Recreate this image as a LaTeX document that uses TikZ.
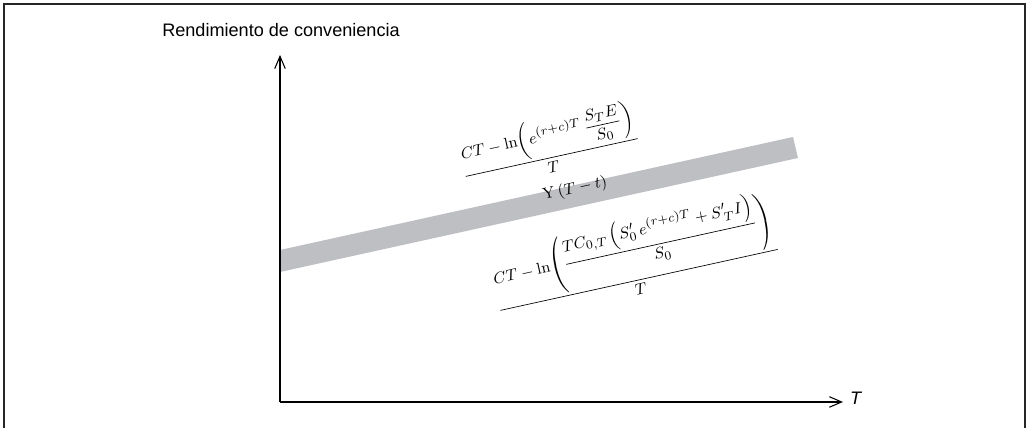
\documentclass[tikz,border=0pt]{standalone}
\usepackage{amsmath}
\usepackage[no-math]{fontspec}
\setsansfont{Liberation Sans}
\usetikzlibrary{arrows.meta,positioning}
\definecolor{bandgray}{RGB}{190,191,194}
\tikzset{
  frame/.style ={line width=1.4pt,draw=black!85},
  axis/.style  ={line width=0.6pt,-{Straight Barb[length=7pt,width=6pt]}},
  band/.style  ={fill=bandgray,draw=none},
  lbl/.style   ={font=\sffamily\fontsize{10.3}{12}\selectfont,inner sep=1pt},
  frm/.style   ={font=\fontsize{9.5}{11}\selectfont,inner sep=0pt,rotate=12.4},
}

\begin{document}
\begin{tikzpicture}[x=0.02cm,y=-0.02cm]
  \useasboundingbox (0,0) rectangle (1029,428);
  \draw[frame] (4,428) -- (4,4) -- (1025,4) -- (1025,428);
  % band
  \fill[band] (280,250) -- (793,137) -- (798,158) -- (280,272) -- cycle;
  % axes
  \coordinate (O) at (280,402);
  \coordinate (ytop) at (280,55);
  \coordinate (xend) at (843,402);
  \draw[axis] (O) -- (ytop);
  \draw[axis] (O) -- (xend);
  \node[lbl,anchor=base] (ylab) at (281,37) {Rendimiento de conveniencia};
  \node[lbl,anchor=west,font=\sffamily\itshape\fontsize{10.3}{12}\selectfont] (xlab) at (848,398) {T};
  % formulas
  \node[frm] (upper) at (549,145)
    {$\dfrac{CT-\ln\!\left(e^{(r+c)T}\,\dfrac{S_T E}{S_0}\right)}{T}$};
  \node[frm] (mid) at (575,189) {$\mathrm{Y}\left(T-t\right)$};
  \node[frm] (lower) at (634,257)
    {$\dfrac{CT-\ln\!\left(\dfrac{TC_{0,T}\left(S'_{0}\,e^{(r+c)T}+S'_{\,T}I\right)}{S_0}\right)}{T}$};
\end{tikzpicture}
\end{document}
